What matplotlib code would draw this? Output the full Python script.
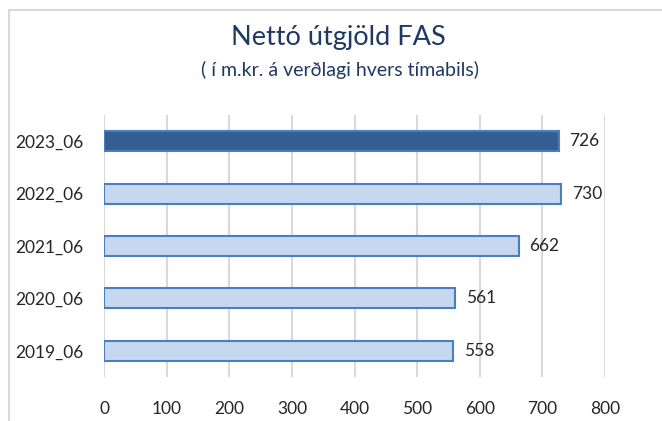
import matplotlib
matplotlib.use("Agg")
import matplotlib.pyplot as plt
from matplotlib.patches import Rectangle

categories = ["2019_06", "2020_06", "2021_06", "2022_06", "2023_06"]
values = [558, 561, 662, 730, 726]
xticks = [0, 100, 200, 300, 400, 500, 600, 700, 800]

plt.rcParams['font.family'] = ['Lato', 'DejaVu Sans']

W, H = 662, 421
fig = plt.figure(figsize=(W/100, H/100), dpi=100)
fig.patch.set_facecolor('white')

# outer chart border
fig.add_artist(Rectangle((9/W, -0.1), 2, 1 - 10/H + 0.1, transform=fig.transFigure,
                         fill=False, edgecolor='#D9D9D9', linewidth=1.5))

ax = fig.add_axes([104/W, 1 - 377/H, (605-104)/W, (377-115)/H])
colors = ['#C5D8EF'] * 4 + ['#365F91']
edges = ['#4A7EC0'] * 5
y = range(len(categories))
ax.barh(y, values, height=0.38, color=colors, edgecolor=edges, linewidth=1.5, zorder=3)
for yi, v in zip(y, values):
    ax.text(v + 17, yi, str(v), va='center', ha='left', fontsize=12.5, color='#262626')

ax.set_xlim(0, 800)
ax.set_ylim(-0.5, len(categories) - 0.5)
ax.set_xticks(xticks)
ax.set_xticklabels([str(t) for t in xticks], fontsize=12.5, color='#262626')
ax.set_yticks(list(y))
ax.set_yticklabels(categories, fontsize=12.5, color='#262626')
ax.tick_params(axis='both', length=0)
ax.tick_params(axis='x', pad=17)
ax.tick_params(axis='y', pad=15)
ax.grid(axis='x', color='#D9D9D9', linewidth=1.5, zorder=0)
for s in ax.spines.values():
    s.set_visible(False)

fig.text(338/W, 1 - 38/H, "Nettó útgjöld FAS", ha='center', va='center', fontsize=19.5, color='#1F3864')
fig.text(340/W, 1 - 70/H, "( í m.kr. á verðlagi hvers tímabils)", ha='center', va='center', fontsize=14, color='#1F3864')

fig.savefig("out.png", dpi=100)
